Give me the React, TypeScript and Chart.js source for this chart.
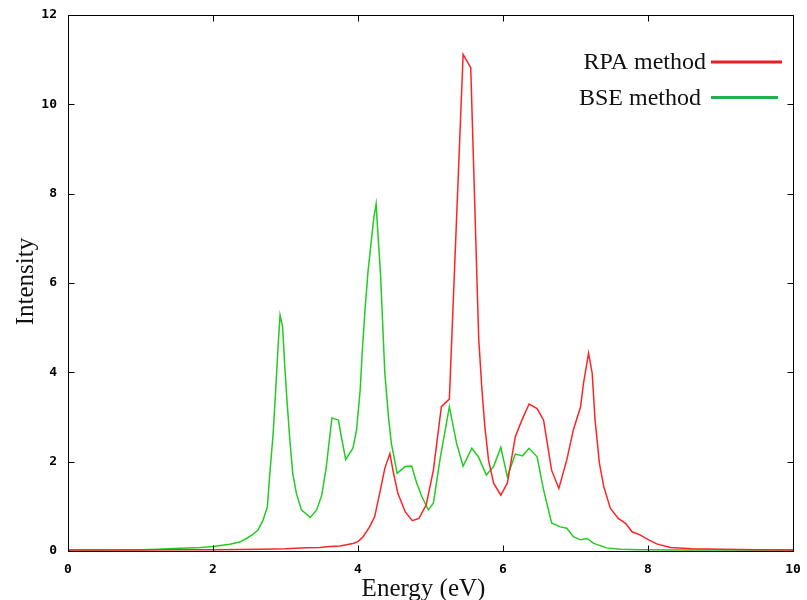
import React, { useEffect, useRef } from "react";
import { Chart, registerables } from "chart.js";

Chart.register(...registerables);

// ---- Data ----
const rpaEnergy = [
  0, 0.5, 1.0, 1.5, 2.0, 2.67, 3.0, 3.29, 3.47, 3.61, 3.75, 3.93, 4.0, 4.07, 4.16, 4.23, 4.3, 4.37,
  4.44, 4.49, 4.55, 4.65, 4.75, 4.84, 4.94, 5.04, 5.15, 5.26, 5.45, 5.555, 5.665, 5.71, 5.75, 5.8,
  5.87, 5.97, 6.06, 6.17, 6.26, 6.36, 6.47, 6.56, 6.67, 6.77, 6.88, 6.97, 7.07, 7.11, 7.18, 7.23,
  7.27, 7.33, 7.39, 7.48, 7.59, 7.69, 7.78, 7.89, 8.01, 8.12, 8.31, 8.6, 9.0, 9.5, 10.0,
];
const rpaIntensity = [
  0.02, 0.02, 0.02, 0.03, 0.03, 0.04, 0.05, 0.07, 0.08, 0.1, 0.11, 0.17, 0.21, 0.32, 0.54, 0.77, 1.3, 1.85,
  2.18, 1.74, 1.29, 0.88, 0.68, 0.73, 1.03, 1.81, 3.23, 3.4, 11.12, 10.82, 4.75, 3.6, 2.78, 2.04,
  1.52, 1.25, 1.52, 2.56, 2.93, 3.29, 3.19, 2.93, 1.81, 1.4, 2.04, 2.71, 3.23, 3.75, 4.43, 3.98,
  2.93, 1.96, 1.44, 0.96, 0.73, 0.62, 0.43, 0.36, 0.25, 0.16, 0.08, 0.05, 0.04, 0.03, 0.02,
];
const bseEnergy = [
  0, 0.5, 1.0, 1.25, 1.54, 1.77, 2.0, 2.23, 2.37, 2.46, 2.55, 2.62, 2.69, 2.75, 2.78, 2.83, 2.87, 2.9,
  2.925, 2.96, 2.99, 3.02, 3.06, 3.1, 3.15, 3.22, 3.34, 3.43, 3.5, 3.56, 3.64, 3.73, 3.77, 3.83, 3.93,
  3.98, 4.03, 4.06, 4.1, 4.14, 4.19, 4.22, 4.25, 4.28, 4.31, 4.34, 4.37, 4.42, 4.46, 4.54, 4.65, 4.74,
  4.81, 4.88, 4.97, 5.04, 5.13, 5.26, 5.36, 5.45, 5.57, 5.66, 5.77, 5.87, 5.97, 6.06, 6.17, 6.27,
  6.36, 6.47, 6.56, 6.67, 6.79, 6.88, 6.97, 7.07, 7.16, 7.25, 7.43, 7.62, 7.9, 8.5, 9.0, 9.5, 10.0,
];
const bseIntensity = [
  0.02, 0.02, 0.03, 0.04, 0.06, 0.07, 0.1, 0.15, 0.2, 0.28, 0.37, 0.47, 0.69, 0.99, 1.66, 2.63, 3.75, 4.65,
  5.28, 5.02, 4.13, 3.38, 2.48, 1.74, 1.29, 0.92, 0.75, 0.92, 1.25, 1.85, 2.98, 2.93, 2.56, 2.05, 2.3,
  2.71, 3.6, 4.5, 5.47, 6.29, 7.04, 7.48, 7.77, 6.96, 6.22, 5.1, 3.98, 3.01, 2.41, 1.74, 1.89, 1.9,
  1.52, 1.22, 0.92, 1.07, 2.04, 3.23, 2.41, 1.9, 2.3, 2.11, 1.7, 1.89, 2.32, 1.66, 2.17, 2.13,
  2.3, 2.11, 1.37, 0.63, 0.54, 0.51, 0.32, 0.25, 0.28, 0.17, 0.07, 0.04, 0.03, 0.02, 0.02, 0.02, 0.02,
];

const seriesLabels = ["RPA method", "BSE method"];
const seriesColors = ["#ff2424", "#22cc22"];
const legendLineColors = ["#ed1c24", "#22b14c"];
const xTitle = "Energy (eV)";
const yTitle = "Intensity";
const xRange = [0, 10];
const yRange = [0, 12];
const tickStep = 2;

const zip = (xs: number[], ys: number[]) => xs.map((x, i) => ({ x, y: ys[i] }));

const decorPlugin = {
  id: "decor",
  afterDatasetsDraw(chart: any) {
    const { ctx, chartArea, scales } = chart;
    const { left, right, top, bottom } = chartArea;
    const xs = scales.x;
    const ys = scales.y;
    ctx.save();
    // frame
    const L = Math.round(left) + 0.5;
    const R = Math.round(right) + 0.5;
    const T = Math.round(top) + 0.5;
    const B = Math.round(bottom) + 0.5;
    ctx.strokeStyle = "#000";
    ctx.lineWidth = 1;
    ctx.beginPath();
    ctx.rect(L, T, R - L, B - T);
    ctx.stroke();
    // inward ticks, mirrored
    const tl = 6;
    ctx.beginPath();
    xs.ticks.forEach((t: any) => {
      const px = Math.round(xs.getPixelForValue(t.value)) + 0.5;
      ctx.moveTo(px, B);
      ctx.lineTo(px, B - tl);
      ctx.moveTo(px, T);
      ctx.lineTo(px, T + tl);
    });
    ys.ticks.forEach((t: any) => {
      const py = Math.round(ys.getPixelForValue(t.value)) + 0.5;
      ctx.moveTo(L, py);
      ctx.lineTo(L + tl, py);
      ctx.moveTo(R, py);
      ctx.lineTo(R - tl, py);
    });
    ctx.stroke();

    // legend
    ctx.font = "24px 'Liberation Serif'";
    ctx.fillStyle = "#111";
    ctx.textAlign = "right";
    ctx.textBaseline = "middle";
    const legendRows = [
      { text: seriesLabels[0], textX: 706, textY: 63, x1: 711, x2: 782, ly: 62, color: legendLineColors[0] },
      { text: seriesLabels[1], textX: 701, textY: 99, x1: 711, x2: 778, ly: 97.5, color: legendLineColors[1] },
    ];
    legendRows.forEach((r) => {
      ctx.fillText(r.text, r.textX, r.textY);
      ctx.strokeStyle = r.color;
      ctx.lineWidth = 3;
      ctx.beginPath();
      ctx.moveTo(r.x1, r.ly);
      ctx.lineTo(r.x2, r.ly);
      ctx.stroke();
    });

    // axis titles
    ctx.fillStyle = "#111";
    ctx.font = "25px 'Liberation Serif'";
    ctx.textAlign = "center";
    ctx.textBaseline = "alphabetic";
    ctx.fillText(xTitle, 423.5, 596);
    ctx.save();
    ctx.translate(33, 281.5);
    ctx.rotate(-Math.PI / 2);
    ctx.fillText(yTitle, 0, 0);
    ctx.restore();
    ctx.restore();
  },
};

export default function App() {
  const canvasRef = useRef<HTMLCanvasElement | null>(null);

  useEffect(() => {
    if (!canvasRef.current) return;
    const tickFont = { family: "'DejaVu Sans Mono'", size: 13, weight: "bold" as const };
    const chart = new Chart(canvasRef.current, {
      type: "line",
      data: {
        datasets: [
          {
            label: seriesLabels[0],
            data: zip(rpaEnergy, rpaIntensity),
            borderColor: seriesColors[0],
            borderWidth: 1.5,
            pointRadius: 0,
            fill: false,
            tension: 0,
          },
          {
            label: seriesLabels[1],
            data: zip(bseEnergy, bseIntensity),
            borderColor: seriesColors[1],
            borderWidth: 1.5,
            pointRadius: 0,
            fill: false,
            tension: 0,
          },
        ],
      },
      options: {
        responsive: false,
        animation: false,
        devicePixelRatio: 1,
        layout: { padding: { top: 15, right: 14, left: 0, bottom: 0 } },
        plugins: { legend: { display: false }, tooltip: { enabled: false } },
        scales: {
          x: {
            type: "linear",
            min: xRange[0],
            max: xRange[1],
            ticks: { stepSize: tickStep, font: tickFont, color: "#000", padding: 3, maxRotation: 0 },
            grid: { display: false },
            border: { display: false },
            afterFit: (s: any) => {
              s.height = 49;
              s.paddingLeft = 0;
              s.paddingRight = 0;
            },
          },
          y: {
            type: "linear",
            min: yRange[0],
            max: yRange[1],
            ticks: { stepSize: tickStep, font: tickFont, color: "#000", padding: 3 },
            grid: { display: false },
            border: { display: false },
            afterFit: (s: any) => {
              s.width = 68;
              s.paddingTop = 0;
              s.paddingBottom = 0;
            },
          },
        },
      },
      plugins: [decorPlugin],
    });
    return () => chart.destroy();
  }, []);

  return (
    <div style={{ position: "absolute", left: 0, top: 0, width: 807, height: 600, background: "#fff" }}>
      <canvas ref={canvasRef} width={807} height={600} style={{ display: "block" }} />
    </div>
  );
}
